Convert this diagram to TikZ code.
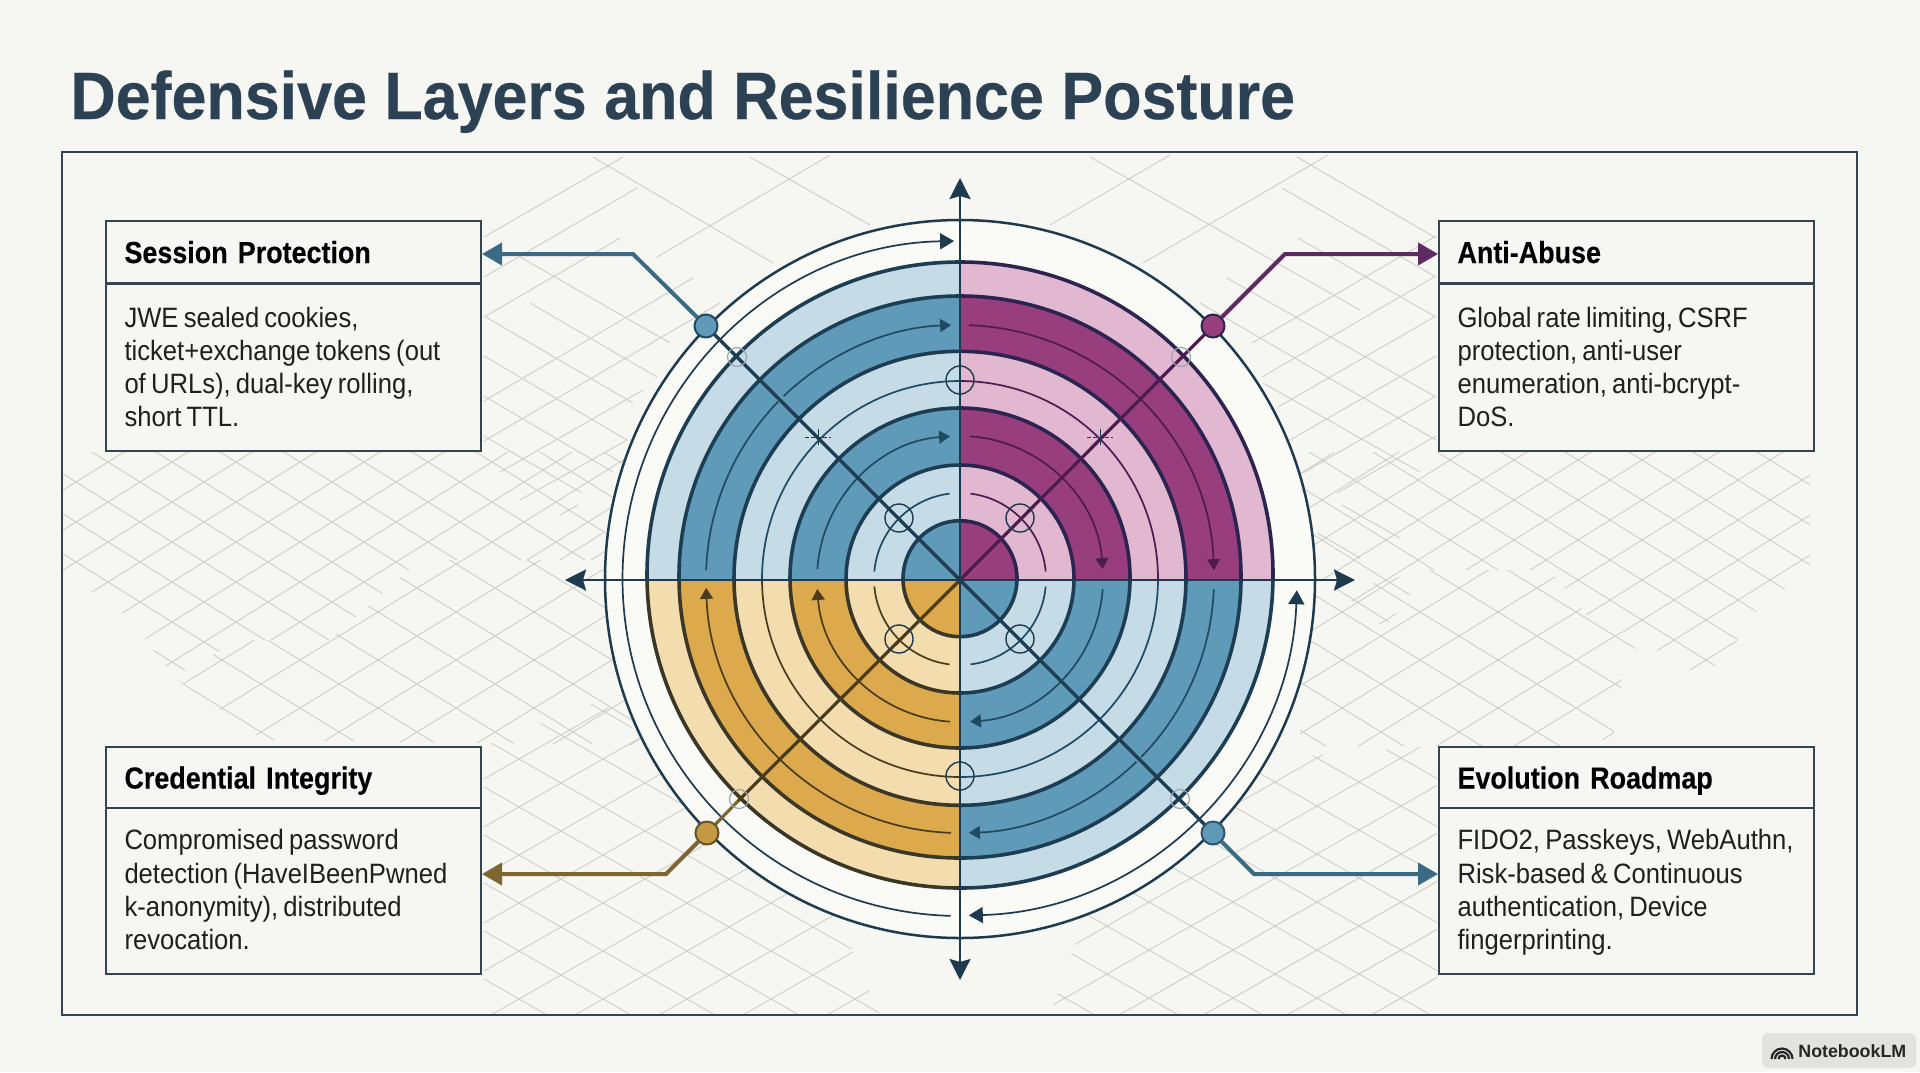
\documentclass[tikz,border=0pt]{standalone}
\usepackage{fontspec}
\usetikzlibrary{arrows.meta,calc}
\setmainfont{Liberation Sans}
\newfontfamily\bodyfont[FakeStretch=0.915]{Liberation Sans}
\newfontfamily\headfont[FakeStretch=0.885,WordSpace=0.7,FakeBold=0.25,BoldFont={Liberation Sans Bold}]{Liberation Sans}
\newfontfamily\titlefont[FakeStretch=0.937,FakeBold=0.4,BoldFont={Liberation Sans Bold}]{Liberation Sans}
\definecolor{paper}{HTML}{F6F6F2}
\definecolor{inner}{HTML}{F6F6F2}
\definecolor{disk}{HTML}{FAFAF7}
\definecolor{gridc}{HTML}{D1D1CB}
\definecolor{ink}{HTML}{1E3A4E}
\definecolor{titlec}{HTML}{2C4254}
\definecolor{frameC}{HTML}{35454F}
\definecolor{blueD}{HTML}{5F9BB8}
\definecolor{blueL}{HTML}{C5DBE5}
\definecolor{magD}{HTML}{983E7C}
\definecolor{magL}{HTML}{E1B8D0}
\definecolor{golD}{HTML}{DCAA4C}
\definecolor{golL}{HTML}{F3DCAE}
\definecolor{blueS}{HTML}{1D3D52}
\definecolor{magS}{HTML}{2C2450}
\definecolor{golS}{HTML}{3B3726}
\definecolor{blueT}{HTML}{1F4A62}
\definecolor{magT}{HTML}{4D1C4E}
\definecolor{golT}{HTML}{4A3C1A}
\definecolor{conB}{HTML}{3B6A85}
\definecolor{conM}{HTML}{5F2A62}
\definecolor{conG}{HTML}{7D6632}
\tikzset{
  gridline/.style={draw=gridc,line width=.5pt},
  ringline/.style={line width=1.8pt},
  outerline/.style={draw=ink,line width=1.25pt},
  thinarc/.style={line width=.85pt},
  smalltip/.style={-{Triangle[length=5.5pt,width=6.5pt]}},
  axisline/.style={draw=ink,line width=1.25pt,{Stealth[length=10.5pt,width=10.5pt,inset=1.5pt]}-{Stealth[length=10.5pt,width=10.5pt,inset=1.5pt]}},
  framebox/.style={draw=frameC,line width=1pt},
  headbox/.style={framebox,fill=inner,anchor=north west,minimum width=187.5pt,minimum height=31pt,inner xsep=9pt,inner ysep=0pt,text width=169pt,align=left,text height=11pt,text depth=0pt,font=\headfont\bfseries\fontsize{15.2}{16}\selectfont,text=black},
  bodybox/.style={framebox,fill=inner,anchor=north west,minimum width=187.5pt,inner xsep=9pt,inner ysep=0pt,text width=169pt,align=left,font=\bodyfont\fontsize{14}{16.6}\selectfont,text=black!88},
  dotnode/.style={circle,minimum size=11.5pt,inner sep=0pt,line width=1pt},
  crosscirc/.style={draw=ink,line width=.7pt},
  faintcirc/.style={draw=ink!45,line width=.6pt},
  connector/.style={line width=2pt,line join=miter,-{Triangle[length=10pt,width=11pt]}},
  diag/.style={line width=1.6pt}
}
\newcommand\lattice[5]{%
  \begin{scope}\clip #5;
  \foreach \k in {-26,...,26}{%
    \draw[gridline] (#1-1400,#2+\k*#4-1400/#3*#4) -- (#1+1400,#2+\k*#4+1400/#3*#4);
    \draw[gridline] (#1-1400,#2+\k*#4+1400/#3*#4) -- (#1+1400,#2+\k*#4-1400/#3*#4);
  }
  \end{scope}}
\newcommand\quadrant[7]{%
  \begin{scope}\clip (#1,#2) rectangle (#3,#4);
  \foreach \rx/\ry/\cy/\col in {313/313/575/#6,281/281/577/#5,226/227/578.3/#6,170/170/578/#5,114/114/579/#6,57/58/578.7/#5}{%
    \filldraw[fill=\col,draw=#7,ringline] (960,\cy) ellipse[x radius=\rx,y radius=\ry];
  }
  \end{scope}}
% r, start, end, colour, extra style
\newcommand\tarc[5]{\draw[thinarc,draw=#4,fill=none,#5] ([shift={(960,579)}]#2:#1) arc[start angle=#2,end angle=#3,radius=#1];}
\newcommand\firstA{\spaceskip=2.6pt\relax\rule{0pt}{13.2pt}}
\newcommand\lastA{\rule[-3.3pt]{0pt}{3.3pt}}
\newcommand\firstB{\spaceskip=2.6pt\relax\rule{0pt}{12.8pt}}
\newcommand\lastB{\rule[-4.2pt]{0pt}{4.2pt}}
\begin{document}
\begin{tikzpicture}[x=.5pt,y=.5pt,yscale=-1]
\useasboundingbox (0,0) rectangle (1920,1072);
\fill[paper] (0,0) rectangle (1920,1072);
% frame
\fill[inner] (62,152) rectangle (1857,1015);
% background lattice
\begin{scope}
\clip (62,152) rectangle (1857,1015);
\lattice{108}{462}{64}{40}{(62,452)--(62,572)--(130,618)--(173,677)--(240,640)--(330,640)--(420,560)--(640,560)--(640,452)--cycle}
\lattice{378}{660}{78}{48}{(263,740)--(173,677)--(240,640)--(330,640)--(420,560)--(640,560)--(640,745)--cycle}
\lattice{603}{903}{84}{48}{(484,746)--(600,700)--(830,900)--(880,1015)--(484,1015)--cycle}
\lattice{1233}{902}{84}{48}{(1090,900)--(1250,760)--(1437,746)--(1437,1015)--(1050,1015)--cycle}
\lattice{1450}{500}{64}{40}{(1300,452)--(1810,452)--(1810,570)--(1745,620)--(1732,653)--(1700,677)--(1640,640)--(1590,620)--(1550,570)--(1430,570)--(1385,628)--(1300,560)--cycle}
\lattice{1498}{660}{78}{48}{(1300,600)--(1430,570)--(1550,570)--(1590,620)--(1640,640)--(1623,673)--(1613,738)--(1560,746)--(1300,746)--cycle}
\foreach \a/\b/\c/\d in {
 593/157/773/263,750/157/870/225,830/155/657/257,623/157/484/237,637/188/484/277,620/238/484/317,
 693/278/484/401,720/303/484/441,520/257/670/343,530/303/657/377,484/316/633/403,484/356/627/440,
 484/396/613/472,484/436/582/493,643/390/500/472,627/440/520/500,578/505/560/515,603/533/560/560,
 1090/157/1360/310,1170/155/1050/225,1328/155/1143/263,1297/157/1436/238,1282/188/1436/277,1298/238/1436/317,
 1227/278/1436/397,1200/303/1436/440,1436/236/1252/343,1436/276/1262/377,1436/316/1278/407,1436/356/1290/440,
 1436/396/1303/473,1436/436/1337/493,1263/383/1420/472,1317/533/1360/558,1342/505/1400/538}
 {\draw[gridline] (\a,\b) -- (\c,\d);}
\end{scope}
\draw[framebox] (62,152) rectangle (1857,1015);

\node[anchor=base west,inner sep=0pt,font=\titlefont\bfseries\fontsize{33.5}{36}\selectfont,text=titlec] (title) at (70,119) {Defensive Layers and Resilience Posture};

% boxes
\node[headbox] (headA) at (105,220) {Session Protection};
\node[bodybox,minimum height=83.5pt] (bodyA) at (105,282.5) {\firstA JWE sealed cookies,\\\mbox{ticket+exchange tokens (out}\\of URLs), dual-key rolling,\\short TTL.\lastA};
\node[headbox] (headB) at (1438,220) {Anti-Abuse};
\node[bodybox,minimum height=83.5pt] (bodyB) at (1438,282.5) {\firstA Global rate limiting, CSRF\\protection, anti-user\\enumeration, anti-bcrypt-\\DoS.\lastA};
\node[headbox,minimum height=30.5pt] (headC) at (105,746) {Credential Integrity};
\node[bodybox,minimum height=83pt] (bodyC) at (105,807) {\firstB Compromised password\\\mbox{detection (HaveIBeenPwned}\\k-anonymity), distributed\\revocation.\lastB};
\node[headbox,minimum height=30.5pt] (headD) at (1438,746) {Evolution Roadmap};
\node[bodybox,minimum height=83pt] (bodyD) at (1438,807) {\firstB \mbox{FIDO2, Passkeys, WebAuthn,}\\Risk-based \& Continuous\\authentication, Device\\fingerprinting.\lastB};

% disk
\fill[disk] (960,579) ellipse[x radius=355,y radius=359];
% quadrants
\quadrant{500}{100}{960}{580}{blueD}{blueL}{blueS}
\quadrant{960}{100}{1400}{580}{magD}{magL}{magS}
\quadrant{500}{580}{960}{1000}{golD}{golL}{golS}
\quadrant{960}{580}{1400}{1000}{blueD}{blueL}{blueS}
% outer circle
\draw[outerline] (960,579) ellipse[x radius=355,y radius=359];
% thin ring 198
\tarc{198}{180}{270}{blueT}{}
\tarc{198}{270}{360}{magT}{}
\tarc{198}{90}{180}{golT}{}
\tarc{198}{0}{90}{blueT}{}
% thin ring 86
\tarc{86}{185}{263}{blueT}{}
\tarc{86}{277}{355}{magT}{}
\tarc{86}{97}{175}{golT}{}
\tarc{86}{5}{83}{blueT}{}
% arrows 143
\tarc{143}{184}{266}{blueT}{smalltip,fill=none}
\tarc{143}{274}{356}{magT}{smalltip}
\tarc{143}{94}{176}{golT}{smalltip}
\tarc{143}{4}{86}{blueT}{smalltip}
% arrows 254
\tarc{254}{182}{224.3}{blueT}{}
\tarc{254}{226}{268}{blueT}{smalltip}
\tarc{254}{272}{358}{magT}{smalltip}
\tarc{254}{92}{178}{golT}{smalltip}
\tarc{254}{2.3}{44.5}{blueT}{}
\tarc{254}{46}{88}{blueT}{smalltip}
% outer thin ring
\draw[thinarc,draw=ink,-{Triangle[length=7pt,width=8pt]}] ([shift={(960,578.5)}]91.6:337.5) arc[start angle=91.6,end angle=269,radius=337.5];
\draw[thinarc,draw=ink,{Triangle[length=7pt,width=8pt]}-{Triangle[length=7pt,width=8pt]}] ([shift={(960,578.5)}]2:337) arc[start angle=2,end angle=88.5,radius=337];

% centre and diagonals
\coordinate (O) at (960,580);
\coordinate (pNW) at (706,326);
\coordinate (pNE) at (1213,326);
\coordinate (pSW) at (707,833);
\coordinate (pSE) at (1213,833);
\coordinate (mSW) at (738,801);
\draw[diag,draw=blueS] (O) -- (pNW);
\draw[diag,draw=magT] (O) -- (pNE);
\draw[diag,draw=golT] (O) -- (mSW);
\draw[diag,draw=conG] (mSW) -- (pSW);
\draw[diag,draw=blueS] (O) -- (pSE);
% axes
\coordinate (axT) at (960,178);
\coordinate (axB) at (960,980);
\coordinate (axL) at (565,580);
\coordinate (axR) at (1355,580);
\draw[axisline] (axT) -- (axB);
\draw[axisline] (axL) -- (axR);

% cross circles
\foreach \n/\x/\y in {cA/960/380,cB/960/776,cC/899/518,cD/1020/518,cE/899/639,cF/1020/639}
  {\node[crosscirc,circle,minimum size=14pt,inner sep=0pt] (\n) at (\x,\y) {};}
\foreach \n/\x/\y in {fA/737/357,fB/1181/357,fC/739/799,fD/1180/799}
  {\node[faintcirc,circle,minimum size=9.5pt,inner sep=0pt] (\n) at (\x,\y) {};}
\foreach \n/\x/\y in {tA/818/437,tB/1100/437}{
  \coordinate (\n) at (\x,\y);
  \draw[ink,line width=.5pt,dash pattern=on 2pt off 1pt] ([xshift=-6.5pt]\n) -- ([xshift=6.5pt]\n);
  \draw[ink,line width=.5pt] ([yshift=-4pt]\n) -- ([yshift=4pt]\n);
}

% connectors
\node[dotnode,fill=blueD,draw=blueT] (dNW) at (pNW) {};
\node[dotnode,fill=magD,draw=magS] (dNE) at (pNE) {};
\node[dotnode,fill=golD!90!black,draw=conG!80!black] (dSW) at (pSW) {};
\node[dotnode,fill=blueD,draw=conB!80!black] (dSE) at (pSE) {};
\coordinate (cNW) at (633,254);
\coordinate (cNE) at (1285,254);
\coordinate (cSW) at (666,874);
\coordinate (cSE) at (1254,874);
\draw[connector,draw=conB] (dNW) -- (cNW) -- (cNW -| headA.east);
\draw[connector,draw=conM] (dNE) -- (cNE) -- (cNE -| headB.west);
\draw[connector,draw=conG] (dSW) -- (cSW) -- (cSW -| bodyC.east);
\draw[connector,draw=conB] (dSE) -- (cSE) -- (cSE -| bodyD.west);

% badge
\fill[black!8!paper,rounded corners=3pt] (1762,1033) rectangle (1916,1068);
\node[anchor=west,inner sep=0pt,font=\fontsize{8.9}{11}\selectfont\bfseries,text=black!85] (badge) at (1798,1051) {NotebookLM};
\foreach \r in {3.5,7,10.5}{\draw[black!85,line width=1.1pt] ([shift={(1782,1059)}]180:\r) arc[start angle=180,end angle=360,radius=\r];}
\end{tikzpicture}
\end{document}
